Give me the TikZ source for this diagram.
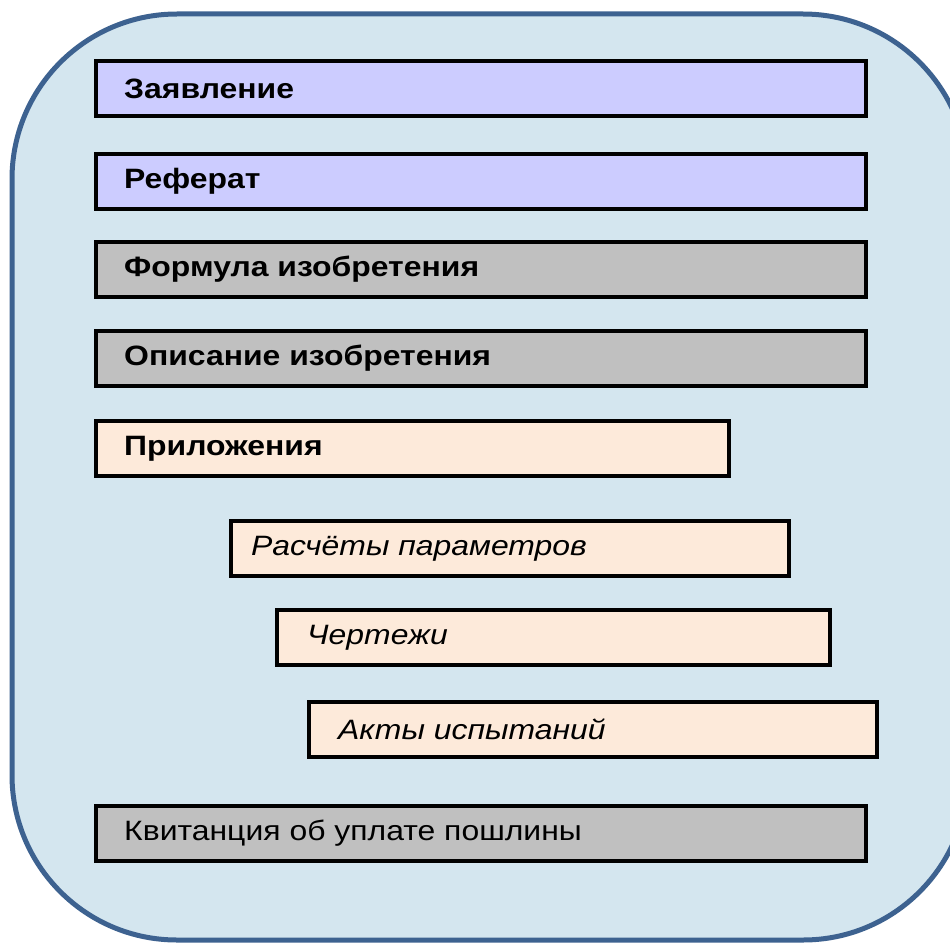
\documentclass[tikz,border=0pt]{standalone}
\usepackage{fontspec}
\setmainfont{Liberation Sans}[FakeStretch=1.14]
\usepackage{xcolor}
\usetikzlibrary{positioning}
\definecolor{fonblue}{HTML}{D4E6EF}
\definecolor{ramka}{HTML}{3D6290}
\definecolor{lavanda}{HTML}{CCCCFF}
\definecolor{seryj}{HTML}{C0C0C0}
\definecolor{persik}{HTML}{FDEADA}
\tikzset{
  doc/.style={draw=black, line width=4pt, anchor=north west, minimum height=55pt,
    inner xsep=0pt, inner ysep=0pt},
  lbl/.style={anchor=west, inner sep=0pt, font=\fontsize{28pt}{30pt}\selectfont},
  lblb/.style={lbl, font=\fontsize{28pt}{30pt}\selectfont\bfseries},
  lbli/.style={lbl, font=\fontsize{28pt}{30pt}\selectfont\itshape},
}
\begin{document}
\begin{tikzpicture}[x=1pt,y=-1pt]
		\def\lx{94}   % left edge of the main column
		\def\rx{864}  % right edge of the main column
		\clip (0,0) rectangle (950,942);
		\useasboundingbox (0,0) rectangle (950,942);
		\draw[fill=fonblue, draw=ramka, line width=5pt, rounded corners=165pt]
		(12,14) rectangle (968,940); % outer frame
		% documents of the application
		\node (zayav) [doc, fill=lavanda, minimum width=\rx-\lx] at (\lx,59) {};
		\node (zayavT) [lblb] at ([xshift=30pt]zayav.west) {Заявление};
		\node (ref) [doc, fill=lavanda, minimum width=\rx-\lx] at (\lx,152) {};
		\node (refT) [lblb] at ([xshift=30pt]ref.west) {Реферат};
		\node (form) [doc, fill=seryj, minimum width=\rx-\lx] at (\lx,240) {};
		\node (formT) [lblb] at ([xshift=30pt]form.west) {Формула изобретения};
		\node (opis) [doc, fill=seryj, minimum width=\rx-\lx] at (\lx,329) {};
		\node (opisT) [lblb] at ([xshift=30pt]opis.west) {Описание изобретения};
		\node (pril) [doc, fill=persik, minimum width=727-\lx] at (\lx,419) {};
		\node (prilT) [lblb] at ([xshift=30pt]pril.west) {Приложения};
		% appendices
		\node (rasch) [doc, fill=persik, minimum width=558] at (229,519) {};
		\node (raschT) [lbli] at ([xshift=22pt]rasch.west) {Расчёты параметров};
		\node (chert) [doc, fill=persik, minimum width=553] at (275,608) {};
		\node (chertT) [lbli] at ([xshift=32pt]chert.west) {Чертежи};
		\node (akty) [doc, fill=persik, minimum width=568] at (307,700) {};
		\node (aktyT) [lbli] at ([xshift=31pt]akty.west) {Акты испытаний};
		% payment
		\node (kvit) [doc, fill=seryj, minimum width=\rx-\lx] at (\lx,804) {};
		\node (kvitT) [lbl] at ([xshift=30pt]kvit.west) {Квитанция об уплате пошлины};
\end{tikzpicture}
\end{document}
